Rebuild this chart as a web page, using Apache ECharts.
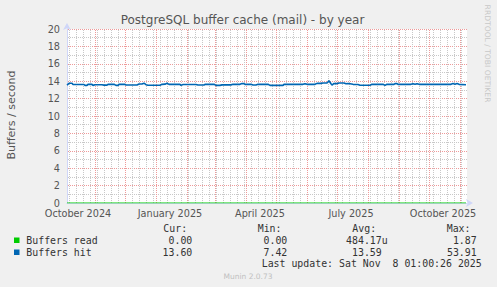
<!DOCTYPE html>
<html><head><meta charset="utf-8">
<script src="https://cdn.jsdelivr.net/npm/echarts@6/dist/echarts.min.js"></script>
<style>html,body{margin:0;padding:0;background:#f0f0f0;}#c{width:497px;height:287px;}</style>
</head><body><div id="c"></div>
<script>
// ---- data ----
const titleText = 'PostgreSQL buffer cache (mail) - by year';
const yAxisTitle = 'Buffers / second';
const startDate = Date.UTC(2024, 9, 4, 0);
const spanDays = 400;
const xTickLabels = ['October 2024', 'January 2025', 'April 2025', 'July 2025', 'October 2025'];
const xTickDates = ['2024-10-15', '2025-01-15', '2025-04-15', '2025-07-15', '2025-10-15'];
const yMin = 0, yMax = 20, yInterval = 2;

// day offsets from start (1 px = 1 day) and values of "Buffers hit"
const hitDays = [0,2,5,6,17,18,20,21,25,26,28,35,37,40,41,47,49,51,52,58,59,70,72,75,77,79,81,93,95,98,100,102,113,114,116,129,131,137,138,147,149,153,155,164,166,173,175,177,178,184,186,189,191,201,203,216,217,236,238,240,248,250,254,256,260,262,264,265,267,270,272,277,279,281,283,286,291,293,303,305,316,318,320,327,328,330,331,344,346,348,350,352,384,386,388,390,392,399];
const hitValues = [13.56,13.76,13.76,13.62,13.62,13.52,13.52,13.63,13.63,13.52,13.6,13.6,13.55,13.55,13.64,13.64,13.52,13.52,13.64,13.64,13.56,13.56,13.68,13.68,13.77,13.6,13.54,13.54,13.64,13.66,13.77,13.64,13.64,13.52,13.62,13.62,13.56,13.56,13.64,13.64,13.52,13.52,13.58,13.58,13.64,13.64,13.74,13.72,13.64,13.64,13.56,13.56,13.64,13.64,13.52,13.52,13.64,13.64,13.72,13.64,13.64,13.75,13.75,13.79,13.79,14.05,13.7,13.55,13.74,13.72,13.79,13.79,13.7,13.74,13.7,13.64,13.62,13.53,13.53,13.64,13.64,13.52,13.64,13.64,13.72,13.72,13.64,13.64,13.7,13.64,13.7,13.64,13.64,13.73,13.66,13.73,13.64,13.6];
const readDays = [0, 100, 200, 300, 399];
const readValues = [0, 0, 0, 0, 0];

const seriesNames = ['Buffers read', 'Buffers hit'];
const seriesColors = ['#00cc00', '#0066b3'];
const statHeaders = ['Cur:', 'Min:', 'Avg:', 'Max:'];
const readStats = ['0.00', '0.00', '484.17u', '1.87'];
const hitStats = ['13.60', '7.42', '13.59', '53.91'];
const lastUpdate = 'Last update: Sat Nov  8 01:00:26 2025';
const footer = 'Munin 2.0.73';
const watermark = 'RRDTOOL / TOBI OETIKER';

// ---- build ----
const DAY = 86400000;
const endDate = startDate + spanDays * DAY;
const toT = d => startDate + d * DAY;
const hitData = hitDays.map((d, i) => [toT(d), hitValues[i]]);
const readData = readDays.map((d, i) => [toT(d), readValues[i]]);
const labelTs = xTickDates.map(s => Date.parse(s + 'T00:00:00Z'));

// month starts and weekly (Sunday) grid lines
const monthTs = [];
for (let y = 2024, m = 9; ; m++) {
  if (m > 11) { m = 0; y++; }
  const t = Date.UTC(y, m, 1);
  if (t > endDate) break;
  if (t >= startDate) monthTs.push(t);
}
const weekTs = [];
{
  let t = startDate;
  while (new Date(t).getUTCDay() !== 0) t += DAY;
  for (; t <= endDate; t += 7 * DAY) weekTs.push(t);
}

const FONT = 'DejaVu Sans';
const MONO = 'DejaVu Sans Mono';
const txtColor = '#555555';
const majorGrid = '#ee9a9a';
const minorGrid = '#c8c8c8';
const dotted = (c) => ({color: c, width: 1, type: [1, 1], dashOffset: 0.5});

const chart = echarts.init(document.getElementById('c'), null, {renderer: 'svg'});

const graphics = [
  {type: 'text', x: 242.5, y: 19.5, style: {text: titleText, font: '12px ' + FONT, fill: txtColor, align: 'center', verticalAlign: 'middle'}},
  {type: 'text', x: 11, y: 115, rotation: Math.PI / 2, style: {text: yAxisTitle, font: '11px ' + FONT, fill: txtColor, align: 'center', verticalAlign: 'middle'}},
  {type: 'text', x: 487, y: 53.5, rotation: -Math.PI / 2, style: {text: watermark, font: '7.6px ' + FONT, fill: '#c8c8c8', align: 'center', verticalAlign: 'middle'}},
  {type: 'text', x: 248, y: 276.5, style: {text: footer, font: '7.5px ' + FONT, fill: '#c0c0c0', align: 'center', verticalAlign: 'middle'}},
  {type: 'text', x: 261.7, y: 263.5, style: {text: lastUpdate, font: '9.9px ' + MONO, fill: '#333', align: 'left', verticalAlign: 'middle'}}
];
const headerX = [163.3, 257.7, 352.3, 446.7];
statHeaders.forEach((h, i) => graphics.push({type: 'text', x: headerX[i], y: 228, style: {text: h, font: '9.9px ' + MONO, fill: '#333', align: 'left', verticalAlign: 'middle'}}));
const rowY = [240, 252];
const rowStats = [readStats, hitStats];
const valueRight = [192.3, 287.3, 387.7, 476.7];
seriesNames.forEach((n, r) => {
  graphics.push({type: 'rect', shape: {x: 14, y: rowY[r] - 2.5, width: 5.5, height: 5.5}, style: {fill: seriesColors[r]}});
  graphics.push({type: 'text', x: 26.3, y: rowY[r], style: {text: n, font: '9.9px ' + MONO, fill: '#333', align: 'left', verticalAlign: 'middle'}});
  rowStats[r].forEach((v, i) => {
    const suffix = /[a-zA-Z]$/.test(v);
    const right = i === 2 ? valueRight[i] - (suffix ? 0 : 5.96) : valueRight[i];
    graphics.push({type: 'text', x: right, y: rowY[r], style: {text: v, font: '9.9px ' + MONO, fill: '#333', align: 'right', verticalAlign: 'middle'}});
  });
});

chart.setOption({
  animation: false,
  backgroundColor: '#f0f0f0',
  grid: {left: 67, right: 30, top: 29, bottom: 84, show: true, backgroundColor: '#ffffff', borderWidth: 0},
  graphic: graphics,
  xAxis: [
    {
      type: 'value', min: startDate, max: endDate, position: 'bottom', show: true,
      axisLine: {show: false}, axisLabel: {show: false},
      axisTick: {show: false, customValues: weekTs},
      splitLine: {show: true, lineStyle: dotted(minorGrid)}
    },
    {
      type: 'value', min: startDate, max: endDate, position: 'bottom',
      axisLine: {show: true, onZero: false, lineStyle: {color: '#cfd6f8', width: 1}, symbol: ['none', 'arrow'], symbolSize: [6, 7], symbolOffset: [0, 6]},
      axisTick: {show: false, customValues: monthTs},
      axisLabel: {customValues: labelTs, color: txtColor, fontFamily: FONT, fontSize: 9.7, margin: 5,
        formatter: (v) => { const i = labelTs.indexOf(v); return i >= 0 ? xTickLabels[i] : ''; }},
      splitLine: {show: true, lineStyle: dotted(majorGrid)}
    }
  ],
  yAxis: {
    type: 'value', min: yMin, max: yMax, interval: yInterval,
    axisLine: {show: true, onZero: false, lineStyle: {color: '#cfd6f8', width: 1}, symbol: ['none', 'arrow'], symbolSize: [6, 7], symbolOffset: [0, 6]},
    axisTick: {show: false},
    axisLabel: {color: txtColor, fontFamily: FONT, fontSize: 9.7, margin: 7},
    splitLine: {show: true, lineStyle: dotted(majorGrid)},
    minorTick: {show: false, splitNumber: 2},
    minorSplitLine: {show: true, lineStyle: dotted(minorGrid)}
  },
  series: [
    {name: seriesNames[0], type: 'line', xAxisIndex: 1, data: readData, showSymbol: false, lineStyle: {color: seriesColors[0], width: 1}, itemStyle: {color: seriesColors[0]}, z: 3},
    {name: seriesNames[1], type: 'line', xAxisIndex: 1, data: hitData, showSymbol: false, lineStyle: {color: seriesColors[1], width: 1.6}, itemStyle: {color: seriesColors[1]}, z: 4}
  ]
});
</script></body></html>
